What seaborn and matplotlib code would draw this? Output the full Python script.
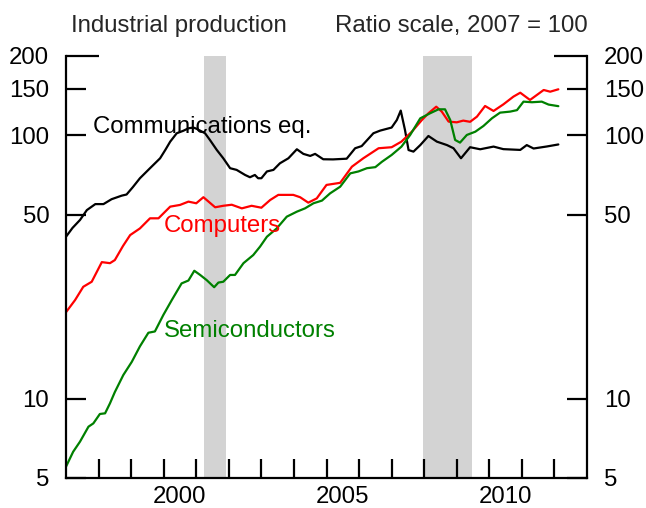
import numpy as np
import pandas as pd
import matplotlib
matplotlib.use("Agg")
import matplotlib.pyplot as plt
import seaborn as sns
from matplotlib.ticker import FixedLocator, FixedFormatter, NullFormatter

# Industrial production, 2007 = 100
comm_years = [1997.0, 1997.2, 1997.43, 1997.64, 1997.9, 1998.15, 1998.4, 1998.71, 1998.86,
              1999.05, 1999.27, 1999.58, 1999.89, 2000.05, 2000.2, 2000.4, 2000.6, 2000.76,
              2000.91, 2001.0, 2001.27, 2001.42, 2001.63, 2001.83, 2002.04, 2002.24, 2002.5,
              2002.65, 2002.8, 2002.9, 2003.0, 2003.17, 2003.37, 2003.57, 2003.83, 2004.09,
              2004.29, 2004.5, 2004.65, 2004.9, 2005.2, 2005.62, 2005.88, 2006.08, 2006.44,
              2006.65, 2007.0, 2007.16, 2007.28, 2007.41, 2007.52, 2007.67, 2007.88, 2008.13,
              2008.39, 2008.7, 2008.9, 2009.13, 2009.41, 2009.72, 2010.13, 2010.43, 2010.95,
              2011.15, 2011.36, 2011.77, 2012.12]
comm_values = [41.2, 44.5, 47.7, 52.0, 54.8, 54.8, 57.2, 59.0, 59.6,
               63.5, 68.7, 75.0, 81.8, 88.0, 94.6, 101.8, 104.0, 106.3,
               107.0, 106.0, 101.8, 96.0, 88.0, 81.8, 75.0, 73.9, 70.7,
               69.3, 70.7, 68.7, 68.7, 72.9, 73.9, 78.3, 81.8, 88.5,
               85.0, 83.5, 85.0, 81.1, 81.0, 81.5, 89.3, 91.0, 101.8,
               104.2, 107.0, 114.3, 124.1, 104.8, 87.9, 86.7, 91.8, 99.4,
               94.6, 91.8, 89.3, 81.8, 90.1, 88.5, 90.6, 88.6, 88.0,
               91.8, 89.1, 90.7, 92.3]

comp_years = [1997.0, 1997.28, 1997.53, 1997.79, 1998.1, 1998.35, 1998.5, 1998.75, 1998.97,
              1999.27, 1999.58, 1999.84, 2000.2, 2000.5, 2000.76, 2001.0, 2001.22, 2001.58,
              2001.83, 2002.09, 2002.4, 2002.7, 2003.0, 2003.27, 2003.52, 2003.98, 2004.19,
              2004.44, 2004.7, 2005.0, 2005.42, 2005.78, 2006.13, 2006.6, 2007.0, 2007.3,
              2007.62, 2007.93, 2008.13, 2008.37, 2008.54, 2008.75, 2009.0, 2009.2, 2009.41,
              2009.62, 2009.87, 2010.13, 2010.43, 2010.74, 2010.95, 2011.25, 2011.67, 2011.87,
              2012.12]
comp_values = [21.3, 23.7, 26.6, 27.8, 33.0, 32.7, 33.6, 38.0, 41.8,
               44.3, 48.4, 48.4, 53.6, 54.4, 56.0, 55.2, 58.2, 53.3,
               54.0, 54.5, 52.8, 54.0, 53.1, 56.8, 59.4, 59.4, 58.2,
               55.5, 57.6, 64.8, 66.0, 76.0, 81.8, 89.3, 90.1, 94.6,
               103.2, 114.3, 121.2, 128.4, 123.0, 112.7, 112.0, 113.7, 112.5,
               117.7, 129.2, 123.7, 131.0, 140.2, 145.1, 136.2, 148.6, 146.4,
               149.5]

semi_years = [1997.0, 1997.22, 1997.43, 1997.69, 1997.84, 1998.04, 1998.2, 1998.35, 1998.5,
              1998.76, 1999.02, 1999.27, 1999.53, 1999.73, 1999.99, 2000.25, 2000.55, 2000.76,
              2000.94, 2001.12, 2001.32, 2001.55, 2001.68, 2001.83, 2002.04, 2002.19, 2002.45,
              2002.75, 2002.96, 2003.17, 2003.47, 2003.78, 2004.09, 2004.34, 2004.6, 2004.86,
              2005.11, 2005.42, 2005.73, 2005.98, 2006.24, 2006.5, 2006.7, 2007.0, 2007.3,
              2007.57, 2007.88, 2008.18, 2008.44, 2008.64, 2008.8, 2008.95, 2009.1, 2009.31,
              2009.57, 2009.82, 2010.08, 2010.33, 2010.64, 2010.85, 2011.05, 2011.31, 2011.61,
              2011.82, 2012.12]
semi_values = [5.52, 6.29, 6.87, 7.83, 8.06, 8.75, 8.8, 9.6, 10.6,
               12.3, 13.8, 15.8, 17.8, 18.0, 20.8, 23.7, 27.4, 28.1,
               30.6, 29.5, 28.2, 26.5, 27.6, 27.8, 29.5, 29.5, 32.7,
               35.1, 37.8, 41.2, 44.3, 49.1, 51.3, 52.8, 55.2, 56.5,
               60.2, 63.8, 71.7, 72.9, 75.0, 75.7, 79.3, 84.2, 90.5,
               100.3, 116.0, 121.2, 125.5, 125.5, 114.3, 96.0, 93.8, 100.3,
               103.2, 108.5, 116.0, 121.9, 123.0, 124.6, 134.2, 133.5, 134.2,
               130.8, 129.0]

recessions = [(2001.25, 2001.9), (2007.96, 2009.46)]

y_ticks = [5, 10, 50, 100, 150]
y_top_tick = [200]
x_year_ticks = list(range(1998, 2013))
x_label_years = [2000, 2005, 2010]

colors = {"Communications eq.": "black", "Computers": "red", "Semiconductors": "green"}

df = pd.concat([
    pd.DataFrame({"year": comm_years, "value": comm_values, "series": "Communications eq."}),
    pd.DataFrame({"year": comp_years, "value": comp_values, "series": "Computers"}),
    pd.DataFrame({"year": semi_years, "value": semi_values, "series": "Semiconductors"}),
], ignore_index=True)

sns.set_style("white")
plt.rcParams["font.family"] = ["Liberation Sans", "DejaVu Sans"]
fs = 17.3

fig = plt.figure(figsize=(6.46, 5.08), dpi=100)
ax = fig.add_axes([66 / 646, 30 / 508, 521 / 646, 422 / 508])

for a, b in recessions:
    ax.axvspan(a, b, color="#d3d3d3", lw=0, zorder=0)

sns.lineplot(data=df, x="year", y="value", hue="series", palette=colors,
             estimator=None, sort=False, legend=False, linewidth=1.6, ax=ax)

ax.set_yscale("log")
ax.set_xlim(1997, 2013)
ax.set_ylim(5, 200)
ax.set_xlabel("")
ax.set_ylabel("")

# y axis: labelled ticks both sides, the 200 tick drawn longer
ax.yaxis.set_major_locator(FixedLocator(y_ticks))
ax.yaxis.set_major_formatter(FixedFormatter([str(v) for v in y_ticks]))
ax.yaxis.set_minor_locator(FixedLocator(y_top_tick))
ax.yaxis.set_minor_formatter(FixedFormatter([str(v) for v in y_top_tick]))
ax.tick_params(axis="y", which="major", direction="in", length=14.4, width=1.6,
               left=True, right=True, labelleft=True, labelright=True,
               labelsize=fs, pad=12, colors="black")
ax.tick_params(axis="y", which="minor", direction="in", length=23.8, width=1.6,
               left=True, right=True, labelleft=True, labelright=True,
               labelsize=fs, pad=12, colors="black")

# x axis: ticks at year starts, labels centred mid-year
ax.xaxis.set_major_locator(FixedLocator(x_year_ticks))
ax.xaxis.set_major_formatter(NullFormatter())
ax.xaxis.set_minor_locator(FixedLocator([y + 0.5 for y in x_label_years]))
ax.xaxis.set_minor_formatter(FixedFormatter([str(y) for y in x_label_years]))
ax.tick_params(axis="x", which="major", direction="in", length=13.7, width=1.6,
               bottom=True, top=False, colors="black")
ax.tick_params(axis="x", which="minor", length=0, labelsize=fs, pad=6,
               bottom=True, top=False, colors="black")

for side in ["left", "right", "bottom"]:
    ax.spines[side].set_visible(True)
    ax.spines[side].set_color("black")
    ax.spines[side].set_linewidth(1.6)
ax.spines["top"].set_visible(False)

ax.text(1997.84, 102, "Communications eq.", color="black", fontsize=fs, va="baseline", ha="left")
ax.text(2000.01, 43.1, "Computers", color="red", fontsize=fs, va="baseline", ha="left")
ax.text(2000.01, 17.1, "Semiconductors", color="green", fontsize=fs, va="baseline", ha="left")

fig.text(71 / 646, 1 - 31.7 / 508, "Industrial production", fontsize=fs, ha="left", va="baseline")
fig.text(588 / 646, 1 - 31.7 / 508, "Ratio scale, 2007 = 100", fontsize=fs, ha="right", va="baseline")

fig.savefig("out.png", dpi=100)
